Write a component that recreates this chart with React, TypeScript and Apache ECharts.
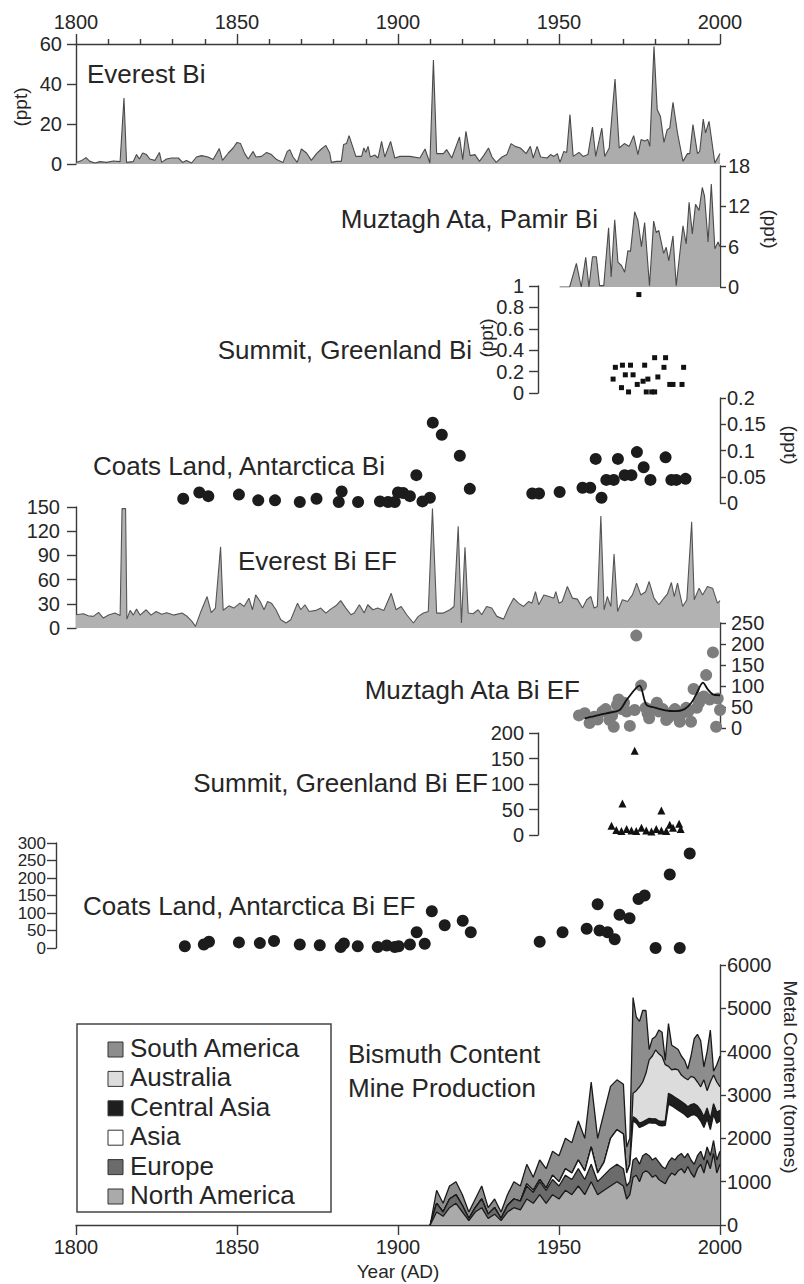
import React, { useEffect, useRef } from "react";
import * as echarts from "echarts";

// ---------------- DATA ----------------
const everestBi: [number, number][] = [
  [1800, 0.8], [1801.8, 1.8], [1803.1, 3.2], [1804.3, 1.3], [1805.9, 0.5], [1807.4, 1.2], [1809.5, 0.8], [1811.6, 1.5],
  [1813.7, 1.2], [1814.9, 33], [1815.7, 0.8], [1817.8, 1.2], [1818.8, 4.7], [1819.7, 2.5], [1820.7, 5.5], [1821.9, 4.7],
  [1822.9, 2.5], [1824.5, 1.8], [1825.9, 5.8], [1826.6, 0.8], [1828.1, 2.5], [1829.7, 3], [1831.8, 3], [1833.1, 0.8],
  [1834.3, 1.8], [1835.9, 0.5], [1837.4, 3.5], [1839, 4.2], [1841, 3.5], [1842.6, 2.2], [1844.5, 7.7], [1845.5, 1.8],
  [1847.3, 5.5], [1848.8, 8], [1850, 10.8], [1851.1, 10.2], [1852.4, 5.2], [1853.5, 2.5], [1855, 6.3], [1855.9, 3.5],
  [1857.6, 3.8], [1859.2, 5.8], [1860.7, 4.7], [1862.3, 2.2], [1864.3, 0.8], [1865.6, 6.3], [1866.4, 7.2], [1867.4, 3.5],
  [1868.7, 0.8], [1870, 7.5], [1871.6, 5.5], [1873.1, 1.8], [1874.7, 5.2], [1876.2, 7.5], [1877.6, 9.3], [1878.8, 5.5],
  [1879.3, 0.8], [1880.9, 1.3], [1882.4, 1.3], [1883.1, 9.7], [1884, 10.2], [1884.8, 14.2], [1885.9, 8.8], [1886.9, 3.8],
  [1888.7, 3.8], [1889.4, 8], [1890, 5.8], [1890.7, 8.8], [1891.4, 3.5], [1892.8, 4.5], [1893.8, 3], [1894.9, 11.3],
  [1895.9, 3.5], [1897.7, 11.3], [1899, 3], [1900.6, 3.8], [1903.7, 3.8], [1906.8, 3], [1908.4, 7.5], [1909.9, 0.5],
  [1911, 52], [1912, 5.2], [1914.1, 5.2], [1915.1, 7.2], [1916.7, 3], [1919.1, 13.5], [1920.1, 2.2], [1921.1, 16.3],
  [1922.4, 4.2], [1923.9, 4.7], [1925.3, 1.3], [1926.6, 4.2], [1928.1, 8], [1929.2, 3.5], [1930.5, 0.8], [1932.3, 3.5],
  [1933.8, 4.7], [1935.1, 10.2], [1936.4, 8.8], [1938, 8], [1939.8, 5.2], [1941.1, 8.8], [1942, 3], [1943.2, 8.8],
  [1944.3, 3.5], [1946.3, 3], [1947.4, 4.7], [1948.4, 3.8], [1949.5, 5.2], [1950.3, 0.8], [1951.5, 6.3], [1952.4, 5.8],
  [1953.4, 24.7], [1954.4, 3.8], [1956.2, 5.8], [1957.5, 3.8], [1959, 4.7], [1960.4, 18.5], [1961.4, 3.8], [1963.3, 18],
  [1964.2, 3.8], [1965.6, 8], [1967.4, 42.5], [1968.7, 8], [1970.3, 10.2], [1971.8, 8.8], [1973.2, 14.2], [1974.5, 4.7],
  [1975.5, 12.2], [1976.6, 11.5], [1977.6, 12.2], [1978.2, 8.8], [1979.5, 58.8], [1980.5, 27.2], [1981.5, 23.8],
  [1982.6, 10.8], [1983.6, 17.2], [1984.4, 18], [1985.4, 30.8], [1986.8, 15.5], [1988.5, 1.3], [1989.9, 5.2],
  [1990.6, 5.2], [1991.6, 19.7], [1993, 5.2], [1993.7, 6.3], [1994.8, 22.5], [1995.5, 15.5], [1996.6, 21.3],
  [1998.4, 0.5], [2000, 5.2],
];

const muztaghBi: [number, number][] = [
  [1950.2, 0], [1953.3, 0], [1955.4, 3.5], [1956.9, 0], [1958.3, 4.4], [1959.3, 0], [1960.4, 4.5], [1961.6, 4.5],
  [1962.6, 0.2], [1963.9, 0.2], [1965.4, 8.8], [1966.2, 1.5], [1967.3, 10], [1968.3, 3.7], [1969.4, 3.2], [1970.4, 2.2],
  [1971.4, 5.4], [1972.2, 5.3], [1973.5, 11.2], [1974.5, 9.9], [1975.6, 6], [1976.6, 9.6], [1978.1, 0.2], [1979.4, 9.8],
  [1980.2, 8.1], [1981, 8.4], [1982.5, 5], [1983.3, 5.9], [1984.1, 3.9], [1985.4, 7.6], [1986.4, 0.2], [1987.5, 4.9],
  [1988.5, 9.1], [1989.5, 6.4], [1990.4, 12.6], [1991.4, 7.9], [1992.4, 12.3], [1993.5, 11.4], [1994.5, 14.8],
  [1995.2, 13.5], [1996.3, 6.7], [1997.3, 15.3], [1998.4, 5.7], [1999.4, 6.7], [2000, 6],
];

const summitBi: [number, number][] = [
  [1974.8, 0.92], [1967.5, 0.24], [1969.7, 0.26], [1972.2, 0.26], [1976.6, 0.26], [1979.7, 0.33], [1983.1, 0.33],
  [1982.6, 0.24], [1988.7, 0.24], [1966.8, 0.13], [1970.6, 0.17], [1973, 0.17], [1980.7, 0.15], [1977.6, 0.13],
  [1976.1, 0.11], [1974.3, 0.08], [1969.4, 0.05], [1971.6, 0.01], [1977.1, 0.01], [1979.7, 0.01], [1978.8, 0.01],
  [1984.4, 0.08], [1985.4, 0.08], [1988.2, 0.08],
];

const coatsBi: [number, number][] = [
  [1833.3, 0.008], [1838.3, 0.02], [1841.1, 0.013], [1850.6, 0.016], [1856.6, 0.005], [1861.8, 0.005], [1869.5, 0.002],
  [1874.7, 0.008], [1882.5, 0.022], [1881.6, 0.002], [1887.6, 0.002], [1894.4, 0.003], [1896.9, 0.002], [1899, 0.002],
  [1900, 0.02], [1901.6, 0.019], [1903.7, 0.013], [1905.7, 0.053], [1907.6, 0.003], [1909.9, 0.01], [1910.8, 0.153],
  [1913.6, 0.13], [1919.2, 0.09], [1922.3, 0.027], [1941.7, 0.018], [1943.8, 0.018], [1950.2, 0.021], [1957.3, 0.029],
  [1959.7, 0.029], [1961.4, 0.084], [1963.2, 0.01], [1964.7, 0.044], [1967, 0.044], [1968.3, 0.084], [1970.4, 0.053],
  [1972.5, 0.053], [1974.2, 0.097], [1976.3, 0.068], [1978.4, 0.044], [1983.1, 0.087], [1984.9, 0.044],
  [1986.4, 0.044], [1989.3, 0.046],
];

const everestEF: [number, number][] = [
  [1800, 16.4], [1802.3, 17.7], [1803.8, 15.2], [1805.4, 14.4], [1807, 19.3], [1808.5, 12.3], [1810.1, 16], [1812.1, 18.5],
  [1813.7, 15.5], [1814.3, 148], [1815.4, 148], [1815.8, 11], [1816.8, 21.8], [1817.8, 16], [1818.8, 23.4], [1819.9, 16],
  [1821.8, 22.6], [1823.3, 16], [1824.9, 20.5], [1826.6, 17], [1828.2, 19], [1830.3, 16], [1832.9, 18.5], [1834.5, 14.5],
  [1836, 8.2], [1837.1, 2], [1838.6, 18.5], [1840.7, 39], [1842, 19], [1843.3, 24.7], [1844.9, 100.7], [1845.7, 22],
  [1847.5, 27.5], [1849, 24.7], [1850.9, 30.8], [1852.2, 26.7], [1853.7, 37], [1854.8, 22.6], [1855.8, 41], [1857.2, 32.9],
  [1858.4, 22.6], [1859.5, 32.9], [1860.7, 30.8], [1862.1, 22.6], [1863.6, 10.3], [1865.2, 6.2], [1866.7, 10.3],
  [1868.8, 30.8], [1869.8, 22.6], [1871.1, 28.8], [1872.4, 20.5], [1874.5, 21.8], [1876, 24.7], [1877.6, 18.5],
  [1879.1, 23.4], [1880.7, 27.5], [1882.2, 34], [1883.8, 24.7], [1885.4, 16.4], [1886.4, 18.5], [1888, 28.8],
  [1889.5, 18.5], [1890.6, 28.8], [1892.2, 22.6], [1893.7, 24.7], [1895.6, 21.8], [1897.9, 43], [1899.4, 22.6],
  [1901, 26.7], [1902.7, 16.4], [1904.8, 6.2], [1906.3, 14.4], [1907.9, 18.5], [1909.4, 20.5], [1910.7, 148], [1912, 18.5],
  [1914.1, 18.5], [1916.1, 22.6], [1917.4, 26.7], [1918.7, 126], [1919.7, 6.2], [1920.8, 100], [1921.8, 18.5],
  [1923.3, 17.7], [1924.9, 22.6], [1926, 16.4], [1927.5, 26.7], [1929.1, 24.7], [1930.7, 14.4], [1932.8, 11],
  [1934.3, 24.7], [1935.9, 37], [1937.4, 30.8], [1939, 26.7], [1940.6, 32.9], [1941.6, 30.8], [1942.7, 45], [1943.7, 28.8],
  [1945.3, 41], [1946.9, 39], [1948.4, 37], [1949, 45], [1950, 30.8], [1951, 32.9], [1952.6, 51.4], [1954.2, 37],
  [1955.7, 35.8], [1957.3, 24.7], [1958.6, 35], [1959.9, 39], [1960.9, 24.7], [1961.9, 26.7], [1963, 138.7], [1964, 22.6],
  [1965, 39], [1966.1, 26.7], [1967.1, 91.8], [1968.2, 20.5], [1969.7, 35], [1971.3, 32.9], [1972.8, 41], [1974.1, 55.6],
  [1975.4, 41], [1976.9, 45], [1978, 57.6], [1979.5, 37], [1981, 28.8], [1982.6, 37], [1983.7, 42.4], [1984.9, 56.4],
  [1985.8, 39], [1986.8, 55.6], [1988.4, 26.7], [1989.7, 35], [1991.2, 131.7], [1992, 35], [1993.5, 49.4], [1994.6, 41],
  [1996.1, 51.4], [1997.7, 49.4], [1999.2, 30.8], [2000, 34],
];

const muztaghEF: [number, number][] = [
  [1956.2, 30], [1958, 35], [1959.5, 12], [1961, 27], [1962, 20], [1963.5, 39], [1964.5, 45], [1965.7, 19], [1966.5, 30],
  [1967, 3], [1968, 55], [1968.5, 68], [1969.4, 45], [1970.2, 60], [1971, 39], [1972, 5], [1973.5, 43], [1974, 220],
  [1975.5, 101], [1976.9, 48], [1977.5, 35], [1978, 23], [1979, 45], [1980.4, 60], [1981, 39], [1982.2, 45], [1983.3, 19],
  [1984, 25], [1984.9, 36], [1986, 45], [1986.4, 31], [1987.5, 15], [1988.3, 35], [1989.5, 48], [1990.2, 40], [1991, 15],
  [1991.8, 93], [1992.8, 48], [1993.5, 60], [1994.2, 72], [1995, 75], [1995.7, 126], [1996.8, 68], [1997.8, 180],
  [1998.8, 3], [1999.3, 70], [2000, 43],
];

const muztaghEFTrend: [number, number][] = [
  [1958, 23], [1961, 28], [1964.7, 35], [1968.8, 43], [1971.1, 68], [1975, 101], [1977.1, 56], [1980, 48], [1983, 42],
  [1986, 40], [1989, 45], [1991.1, 60], [1992.6, 80], [1994.7, 108], [1996.2, 92], [1997.8, 80], [2000, 78],
];

const summitEF: [number, number][] = [
  [1973.5, 165], [1969.7, 62], [1981.8, 48], [1966.3, 18], [1967.8, 10], [1969.4, 8], [1971, 12], [1972.5, 9], [1974, 8],
  [1975.6, 14], [1977.1, 9], [1978.7, 7], [1980.2, 12], [1981.8, 9], [1983.3, 8], [1984.4, 20], [1985.4, 14],
  [1987.3, 22], [1987.8, 12],
];

const coatsEF: [number, number][] = [
  [1833.8, 5], [1839.7, 10], [1841.3, 18], [1850.6, 16], [1857.1, 14], [1861.5, 20], [1869.5, 10], [1875.7, 8],
  [1882.2, 3], [1883.2, 13], [1887.5, 5], [1893.7, 3], [1896.5, 7], [1899, 3], [1900.2, 5], [1903.7, 10], [1905.8, 45],
  [1908.3, 12], [1910.5, 105], [1914.5, 65], [1920.1, 78], [1922.6, 45], [1944, 18], [1951.1, 45], [1958.6, 55],
  [1962, 125], [1962.6, 50], [1965.1, 45], [1967.3, 25], [1968.8, 95], [1971.9, 85], [1974.7, 140], [1976.6, 150],
  [1980, 0], [1984.4, 210], [1987.5, 0], [1990.6, 270],
];

// Mine production (tonnes), stacked bottom -> top
const prodYears = [
  1910, 1912, 1914, 1916, 1918, 1920, 1922, 1924, 1926, 1928, 1930, 1932, 1934, 1936, 1938, 1940, 1942, 1944, 1946, 1948,
  1950, 1952, 1954, 1956, 1958, 1960, 1962, 1964, 1966, 1968, 1970, 1971, 1972, 1973, 1974, 1975, 1976, 1977, 1978, 1979,
  1980, 1981, 1982, 1983, 1984, 1985, 1986, 1987, 1988, 1989, 1990, 1991, 1992, 1993, 1994, 1995, 1996, 1997, 1998, 1999,
  2000,
];
const northAmerica = [
  0, 300, 200, 400, 500, 300, 100, 300, 400, 150, 250, 100, 300, 400, 350, 600, 500, 700, 500, 700,
  600, 800, 700, 900, 700, 1000, 700, 800, 900, 1000, 900, 600, 700, 1100, 1150, 1000, 1200, 1250, 1200, 1100,
  1150, 1050, 1000, 950, 1100, 1200, 1150, 1250, 1300, 1200, 1350, 1200, 1100, 1300, 1400, 1200, 1500, 1300, 1650, 1200,
  1400,
];
const europe = [
  0, 200, 100, 200, 200, 150, 50, 100, 200, 100, 150, 50, 150, 200, 200, 300, 250, 300, 300, 350,
  300, 350, 350, 400, 350, 400, 300, 350, 400, 400, 400, 300, 300, 400, 400, 400, 400, 400, 400, 400,
  400, 400, 350, 350, 350, 350, 350, 350, 350, 350, 300, 300, 300, 300, 300, 300, 300, 300, 300, 300,
  300,
];
const asia = [
  0, 0, 0, 0, 0, 0, 0, 0, 0, 0, 0, 0, 0, 0, 0, 50, 50, 50, 50, 100,
  100, 150, 150, 200, 200, 400, 200, 300, 700, 800, 800, 300, 400, 900, 800, 850, 680, 670, 760, 850,
  800, 850, 940, 1000, 1340, 1200, 1200, 1050, 950, 1000, 830, 1030, 1150, 900, 700, 750, 650, 600, 600, 850,
  700,
];
const centralAsia = [
  0, 0, 0, 0, 0, 0, 0, 0, 0, 0, 0, 0, 0, 0, 0, 0, 0, 0, 0, 0,
  0, 0, 0, 0, 0, 0, 0, 0, 0, 0, 0, 0, 0, 100, 100, 100, 100, 100, 100, 100,
  100, 100, 100, 100, 250, 250, 250, 250, 250, 250, 250, 250, 250, 250, 250, 250, 250, 250, 250, 250,
  250,
];
const australia = [
  0, 0, 0, 0, 0, 0, 0, 0, 0, 0, 0, 0, 0, 0, 0, 0, 0, 0, 0, 0,
  0, 0, 0, 0, 0, 0, 0, 0, 0, 0, 0, 0, 0, 540, 650, 840, 920, 1080, 1350, 1450,
  1590, 1550, 1500, 1300, 620, 580, 650, 680, 610, 600, 620, 650, 600, 550, 540, 850, 400, 850, 660, 700,
  540,
];
const southAmerica = [
  0, 300, 200, 300, 300, 250, 150, 200, 300, 150, 200, 150, 250, 400, 350, 450, 300, 450, 450, 550,
  600, 700, 700, 900, 750, 1500, 800, 1150, 1200, 1150, 1150, 600, 600, 2210, 1700, 1510, 1650, 1450, 240, 400,
  310, 550, 560, 100, 990, 570, 500, 470, 440, 400, 250, 470, 900, 1100, 1060, 300, 900, 1200, 90, 400,
  710,
];

const regions = ["South America", "Australia", "Central Asia", "Asia", "Europe", "North America"];
const regionColors = ["#8d8d8d", "#dcdcdc", "#1e1e1e", "#ffffff", "#6b6b6b", "#aaaaaa"];

// ---------------- LAYOUT ----------------
const FONT = "'Liberation Sans', Arial, Helvetica, sans-serif";
const TXT = "#262626";
const AX = "#3a3a3a";
const X0 = 76;
const X1 = 720;
const PPY = (X1 - X0) / 200;
const pxOf = (yr: number) => X0 + (yr - 1800) * PPY;
const plain = (v: number) => String(Math.round(v * 1000) / 1000);

type G = { top: number; height: number; from: number };
const grids: G[] = [
  { top: 44, height: 120, from: 1800 }, // Everest Bi
  { top: 166, height: 121, from: 1950 }, // Muztagh Bi
  { top: 286, height: 107, from: 1943.5 }, // Summit Bi
  { top: 398, height: 105, from: 1800 }, // Coats Bi
  { top: 507, height: 121, from: 1800 }, // Everest EF
  { top: 623, height: 105, from: 1800 }, // Muztagh EF
  { top: 733, height: 102, from: 1943.5 }, // Summit EF
  { top: 843, height: 105, from: 1800 }, // Coats EF
  { top: 965, height: 260, from: 1800 }, // production
];

function yAxis(i: number, min: number, max: number, interval: number, pos: "left" | "right", extra: any = {}) {
  const right = pos === "right";
  return {
    type: "value",
    gridIndex: i,
    min,
    max,
    interval,
    position: pos,
    offset: extra.offset || 0,
    axisLine: { show: true, onZero: false, lineStyle: { color: AX, width: 1.4 } },
    axisTick: { show: true, length: right ? 6 : 9, lineStyle: { color: AX, width: 1.4 } },
    axisLabel: {
      show: true,
      fontSize: extra.fontSize || 20,
      lineHeight: extra.fontSize || 20,
      color: TXT,
      fontFamily: FONT,
      margin: extra.margin || (right ? 8 : 14),
      showMinLabel: true,
      showMaxLabel: true,
      hideOverlap: false,
      formatter: plain,
    },
    splitLine: { show: false },
  };
}

function xAxis(i: number) {
  const g = grids[i];
  const base: any = {
    type: "value",
    gridIndex: i,
    min: g.from,
    max: 2000,
    show: i === 0 || i === 8,
    splitLine: { show: false },
  };
  if (i === 0 || i === 8) {
    base.position = i === 0 ? "top" : "bottom";
    base.interval = 50;
    base.axisLine = { show: true, onZero: false, lineStyle: { color: AX, width: 1.4 } };
    base.axisTick = { show: true, length: 10, lineStyle: { color: AX, width: 1.4 } };
    base.minorTick = { show: i === 0, splitNumber: 5, length: 5, lineStyle: { color: AX, width: 1.4 } };
    base.minorSplitLine = { show: false };
    base.axisLabel = {
      fontSize: 20,
      color: TXT,
      fontFamily: FONT,
      margin: 12,
      showMinLabel: true,
      showMaxLabel: true,
      formatter: plain,
    };
  }
  return base;
}

const areaSeries = (i: number, data: [number, number][], fill: string, line: string) => ({
  type: "line",
  xAxisIndex: i,
  yAxisIndex: i,
  data,
  symbol: "none",
  lineStyle: { color: line, width: 1.1 },
  areaStyle: { color: fill, opacity: 1 },
  z: 2,
});

const scatter = (i: number, data: [number, number][], symbol: string, size: number, color: string) => ({
  type: "scatter",
  xAxisIndex: i,
  yAxisIndex: i,
  data,
  symbol,
  symbolSize: size,
  itemStyle: { color, opacity: 1 },
  clip: false,
  z: 3,
});

function txt(text: string, x: number, y: number, align: string, size = 26, rotation = 0) {
  return {
    type: "text",
    x,
    y,
    rotation,
    z: 10,
    style: {
      text,
      fontSize: size,
      fontFamily: FONT,
      fill: TXT,
      align,
      verticalAlign: "middle",
      textAlign: align,
      textVerticalAlign: "middle",
    },
  };
}

function buildOption() {
  // cumulative stack (bottom -> top)
  const layers = [northAmerica, europe, asia, centralAsia, australia, southAmerica];
  const layerColors = ["#aaaaaa", "#6b6b6b", "#ffffff", "#1e1e1e", "#dcdcdc", "#8d8d8d"];
  const cum: number[][] = [];
  layers.forEach((l, k) => {
    cum.push(l.map((v, j) => v + (k > 0 ? cum[k - 1][j] : 0)));
  });
  const prodSeries: any[] = [];
  for (let k = layers.length - 1; k >= 0; k--) {
    prodSeries.push({
      type: "line",
      xAxisIndex: 8,
      yAxisIndex: 8,
      data: prodYears.map((yr, j) => [yr, cum[k][j]]),
      symbol: "none",
      lineStyle: { color: "#1a1a1a", width: 1.3 },
      areaStyle: { color: layerColors[k], opacity: 1 },
      z: 2 + (layers.length - k) * 0.01,
    });
  }

  const legendX = 77;
  const legendY = 1024;
  const rowY = (r: number) => 1048 + r * 29.4;
  const legendEls: any[] = [
    {
      type: "rect",
      shape: { x: legendX, y: legendY, width: 254, height: 188 },
      style: { fill: "#ffffff", stroke: "#444", lineWidth: 1.5 },
      z: 9,
    },
  ];
  regions.forEach((name, r) => {
    legendEls.push({
      type: "rect",
      shape: { x: 108, y: rowY(r) - 6, width: 15, height: 15 },
      style: { fill: regionColors[r], stroke: "#333", lineWidth: 1 },
      z: 10,
    });
    legendEls.push(txt(name, 130, rowY(r), "left", 26));
  });

  return {
    animation: false,
    backgroundColor: "#ffffff",
    textStyle: { fontFamily: FONT },
    grid: grids.map((g) => ({
      left: pxOf(g.from),
      width: X1 - pxOf(g.from),
      top: g.top,
      height: g.height,
      containLabel: false,
    })),
    xAxis: grids.map((_, i) => xAxis(i)),
    yAxis: [
      yAxis(0, 0, 60, 20, "left", { margin: 14 }),
      yAxis(1, 0, 18, 6, "right"),
      yAxis(2, 0, 1, 0.2, "left", { margin: 14 }),
      yAxis(3, 0, 0.2, 0.05, "right", { margin: 7 }),
      yAxis(4, 0, 150, 30, "left", { margin: 16 }),
      yAxis(5, 0, 250, 50, "right", { margin: 11 }),
      yAxis(6, 0, 200, 50, "left", { margin: 14 }),
      yAxis(7, 0, 300, 50, "left", { margin: 10, offset: 20, fontSize: 17 }),
      yAxis(8, 0, 6000, 1000, "right", { margin: 7 }),
    ],
    series: [
      areaSeries(0, everestBi, "#acacac", "#4a4a4a"),
      areaSeries(1, muztaghBi, "#acacac", "#4a4a4a"),
      scatter(2, summitBi, "rect", 5, "#111111"),
      scatter(3, coatsBi, "circle", 12, "#1c1c1c"),
      areaSeries(4, everestEF, "#b2b2b2", "#555555"),
      scatter(5, muztaghEF, "circle", 12, "#7d7d7d"),
      {
        type: "line",
        xAxisIndex: 5,
        yAxisIndex: 5,
        data: muztaghEFTrend,
        symbol: "none",
        smooth: 0.3,
        lineStyle: { color: "#111", width: 1.8 },
        z: 4,
      },
      scatter(6, summitEF, "triangle", 8, "#111111"),
      scatter(7, coatsEF, "circle", 12, "#1c1c1c"),
      ...prodSeries,
    ],
    graphic: [
      txt("Everest Bi", 87, 74, "left"),
      txt("Muztagh Ata, Pamir Bi", 598, 219, "right"),
      txt("Summit, Greenland Bi", 472, 350, "right"),
      txt("Coats Land, Antarctica Bi", 93, 466, "left"),
      txt("Everest Bi EF", 238, 561, "left"),
      txt("Muztagh Ata Bi EF", 580, 690, "right"),
      txt("Summit, Greenland Bi EF", 488, 783, "right"),
      txt("Coats Land, Antarctica Bi EF", 83, 906, "left"),
      txt("Bismuth Content", 348, 1054, "left"),
      txt("Mine Production", 348, 1088, "left"),
      txt("(ppt)", 20, 107, "center", 19, Math.PI / 2),
      txt("(ppt)", 770, 229, "center", 19, -Math.PI / 2),
      txt("(ppt)", 486, 338, "center", 19, Math.PI / 2),
      txt("(ppt)", 790, 445, "center", 19, -Math.PI / 2),
      txt("Metal Content (tonnes)", 790, 1077, "center", 19, -Math.PI / 2),
      txt("Year (AD)", 398, 1271, "center", 19),
      ...legendEls,
    ],
  };
}

export default function App() {
  const ref = useRef<HTMLDivElement>(null);
  useEffect(() => {
    document.body.style.margin = "0";
    const chart = echarts.init(ref.current as HTMLDivElement, null, { renderer: "svg" });
    chart.setOption(buildOption() as any);
    return () => chart.dispose();
  }, []);
  return <div ref={ref} style={{ width: 804, height: 1284 }} />;
}
